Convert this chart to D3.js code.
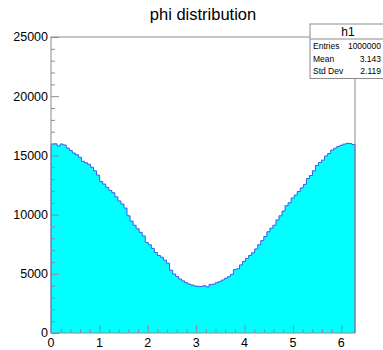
<!DOCTYPE html>
<html>
<head>
<meta charset="utf-8">
<script src="https://cdn.jsdelivr.net/npm/d3@7"></script>
<style>
  body { margin: 0; background: #fff; }
  svg { display: block; font-family: "Liberation Sans", Arial, sans-serif; }
</style>
</head>
<body>
<div id="chart"></div>
<script>
// histogram h1: 100 bins over [0, 2pi]
const binCount = 100;
const xRange = [0, 2 * Math.PI];
const binContents = [
  15950, 15980, 15800, 15960, 15880, 15620, 15420, 15200, 15060, 14850,
  14500, 14380, 14250, 14000, 13700, 13330, 12800, 12580, 12300, 12050,
  11850, 11500, 11150, 10900, 10550, 9900, 9450, 9100, 8800, 8500,
  8200, 7650, 7450, 7150, 6800, 6550, 6400, 6150, 5900, 5300,
  4980, 4780, 4560, 4400, 4250, 4130, 4050, 3970, 3940, 3930,
  3990, 3900, 4100, 4120, 4250, 4330, 4470, 4620, 4760, 4950,
  5350, 5420, 5750, 6050, 6300, 6550, 6780, 7100, 7450, 7800,
  8150, 8550, 8850, 9100, 9550, 9900, 10300, 10750, 11000, 11400,
  11650, 11950, 12250, 12550, 13050, 13300, 13700, 14150, 14400, 14600,
  14950, 15150, 15450, 15600, 15750, 15850, 15950, 16020, 16000, 15920
];
const xTicks = [0, 1, 2, 3, 4, 5, 6];
const yTicks = [0, 5000, 10000, 15000, 20000, 25000];
const statsLabels = ["Entries", "Mean", "Std Dev"];
const statsValues = ["1000000", "3.143", "2.119"];

const width = 383, height = 350;
const frame = { left: 51, right: 355, top: 37, bottom: 333 };
const colors = { fill: "#00ffff", line: "#3d5ce8", frame: "#8c8c8c", text: "#000" };

const svg = d3.select("#chart").append("svg")
  .attr("width", width).attr("height", height);

const x = d3.scaleLinear().domain(xRange).range([frame.left, frame.right]);
const y = d3.scaleLinear().domain([0, 25000]).range([frame.bottom, frame.top]);

const binWidth = (xRange[1] - xRange[0]) / binCount;
const bins = binContents.map((v, i) => ({ x0: xRange[0] + i * binWidth, x1: xRange[0] + (i + 1) * binWidth, v }));

// step outline points
const pts = [[bins[0].x0, 0]];
bins.forEach(b => { pts.push([b.x0, b.v]); pts.push([b.x1, b.v]); });
pts.push([bins[bins.length - 1].x1, 0]);

svg.append("path")
  .datum(pts)
  .attr("fill", colors.fill)
  .attr("d", d3.area().x(d => x(d[0])).y0(y(0)).y1(d => y(d[1])));

svg.append("path")
  .datum(pts)
  .attr("fill", "none")
  .attr("stroke", colors.line)
  .attr("stroke-width", 1)
  .attr("d", d3.line().x(d => x(d[0])).y(d => y(d[1])));

// frame
svg.append("rect")
  .attr("x", frame.left).attr("y", frame.top)
  .attr("width", frame.right - frame.left).attr("height", frame.bottom - frame.top)
  .attr("fill", "none").attr("stroke", colors.frame).attr("stroke-width", 1);

// x axis, ticks pointing up
svg.append("g").attr("transform", `translate(0,${frame.bottom})`)
  .call(d3.axisTop(x).tickValues(xTicks).tickSize(8).tickFormat(""));
const xMinor = d3.range(0, 31).map(d => d * 0.2).filter(d => d <= xRange[1] && Math.abs(d - Math.round(d)) > 1e-6);
svg.append("g").attr("transform", `translate(0,${frame.bottom})`)
  .call(d3.axisTop(x).tickValues(xMinor).tickSize(4).tickFormat(""));
svg.append("g").selectAll("text").data(xTicks).join("text")
  .attr("x", d => x(d)).attr("y", frame.bottom + 14)
  .attr("text-anchor", "middle").attr("font-size", 12.5).attr("fill", colors.text)
  .text(d => d);

// y axis, ticks pointing right
svg.append("g").attr("transform", `translate(${frame.left},0)`)
  .call(d3.axisRight(y).tickValues(yTicks).tickSize(8).tickFormat(""));
const yMinor = d3.range(0, 26).map(d => d * 1000).filter(d => d % 5000 !== 0);
svg.append("g").attr("transform", `translate(${frame.left},0)`)
  .call(d3.axisRight(y).tickValues(yMinor).tickSize(4).tickFormat(""));
svg.selectAll(".domain").remove();
svg.selectAll(".tick line").attr("stroke", colors.frame);
svg.append("g").selectAll("text").data(yTicks).join("text")
  .attr("x", frame.left - 3).attr("y", d => y(d)).attr("dy", "0.35em")
  .attr("text-anchor", "end").attr("font-size", 12.5).attr("fill", colors.text)
  .text(d => d);

// title
svg.append("text")
  .attr("x", (frame.left + frame.right) / 2).attr("y", 20)
  .attr("text-anchor", "middle").attr("font-size", 16.5).attr("fill", colors.text)
  .text("phi distribution");

// stats box
const box = { x: 310, y: 24, w: 76, head: 15, row: 12.5 };
const boxH = box.head + box.row * statsLabels.length + 2;
const sb = svg.append("g");
sb.append("rect").attr("x", box.x).attr("y", box.y).attr("width", box.w).attr("height", boxH)
  .attr("fill", "#fff").attr("stroke", colors.frame);
sb.append("line").attr("x1", box.x).attr("x2", box.x + box.w)
  .attr("y1", box.y + box.head).attr("y2", box.y + box.head).attr("stroke", colors.frame);
sb.append("text").attr("x", box.x + box.w / 2).attr("y", box.y + box.head / 2).attr("dy", "0.35em")
  .attr("text-anchor", "middle").attr("font-size", 12).text("h1");
sb.selectAll(".lab").data(statsLabels).join("text")
  .attr("x", box.x + 3).attr("y", (d, i) => box.y + box.head + box.row * (i + 0.5) + 1).attr("dy", "0.35em")
  .attr("font-size", 8.5).text(d => d);
sb.selectAll(".val").data(statsValues).join("text")
  .attr("x", 381).attr("y", (d, i) => box.y + box.head + box.row * (i + 0.5) + 1).attr("dy", "0.35em")
  .attr("text-anchor", "end").attr("font-size", 8.5).text(d => d);
</script>
</body>
</html>
